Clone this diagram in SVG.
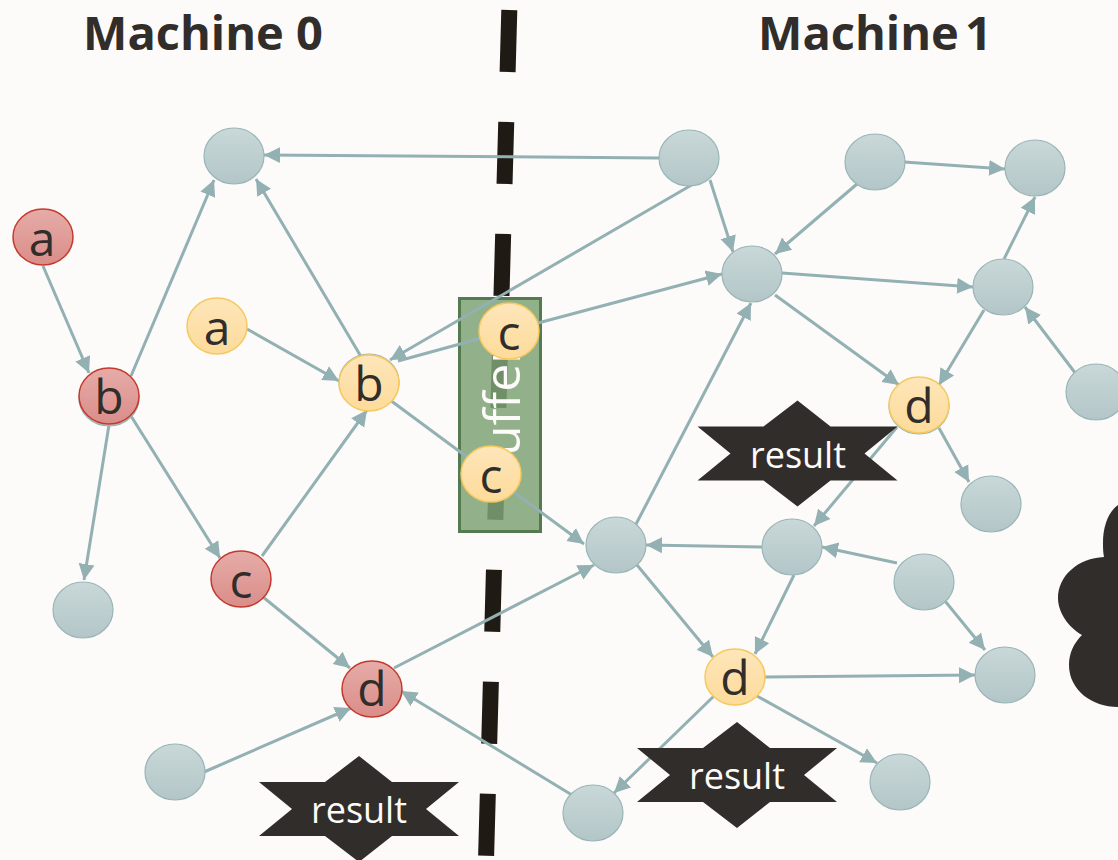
<svg xmlns="http://www.w3.org/2000/svg" width="1118" height="860" viewBox="0 0 1118 860">
<style>
text{font-family:"Open Sans","Noto Sans","Liberation Sans",sans-serif;text-anchor:middle}
.t{font-size:47px;font-weight:700;fill:#312d2a}
.l{font-size:48px;font-weight:400;fill:#312d2a}
.r{font-size:36px;fill:#fcfbfa}
.g{fill:url(#gg);stroke:#9ab5b7;stroke-width:1.2}
.p{fill:url(#gr);stroke:#c5392d;stroke-width:1.5}
.y{fill:url(#gy);stroke:#f6c95f;stroke-width:1.5}
.s{fill:#312d2a}
#edges line{stroke:#93b0b3;stroke-width:3}
#edges .a{marker-end:url(#ah)}
</style>
<defs>
<linearGradient id="gg" x1="0" y1="0" x2="0" y2="1"><stop offset="0" stop-color="#c9d8d9"/><stop offset="1" stop-color="#b3c6c7"/></linearGradient>
<linearGradient id="gr" x1="0" y1="0" x2="0" y2="1"><stop offset="0" stop-color="#e6aca8"/><stop offset="1" stop-color="#da8d89"/></linearGradient>
<linearGradient id="gy" x1="0" y1="0" x2="0" y2="1"><stop offset="0" stop-color="#fde6ba"/><stop offset="1" stop-color="#fddb9a"/></linearGradient>
<marker id="ah" markerUnits="userSpaceOnUse" markerWidth="17" markerHeight="18" refX="16" refY="9" orient="auto"><path d="M0 1 L16 9 L0 17 Z" fill="#93b0b3"/></marker>
<polygon id="star" points="0,-53 33,-27 100,-27 67,0 100,27 33,27 0,53 -34,27 -100,27 -67,0 -100,-27 -34,-27"/>
</defs>
<rect width="1118" height="860" fill="#fcfbfa"/>
<text class="t" x="203" y="50">Machine 0</text>
<text class="t" x="875" y="50" word-spacing="-6">Machine 1</text>
<line x1="509.3" y1="10" x2="486" y2="860" stroke="#1f1b14" stroke-width="16" stroke-dasharray="62 50"/>
<g id="buffer">
<rect x="459.5" y="298.5" width="81" height="233" fill="#7fa275" fill-opacity=".85" stroke="#567a50" stroke-width="3"/>
<text x="0" y="0" transform="translate(520,415) rotate(-90)" font-size="50" fill="#fcfbfa">buffer</text>
</g>
<g id="edges">
<line class="a" x1="43" y1="266" x2="89" y2="373"/>
<line class="a" x1="131" y1="376" x2="214" y2="180"/>
<line class="a" x1="131" y1="416" x2="220" y2="558"/>
<line class="a" x1="109" y1="425" x2="84" y2="580"/>
<line class="a" x1="262" y1="556" x2="367" y2="410"/>
<line class="a" x1="263" y1="597" x2="350" y2="668"/>
<line class="a" x1="247" y1="329" x2="339" y2="381"/>
<line class="a" x1="363" y1="360" x2="256" y2="179"/>
<line x1="398" y1="361" x2="482" y2="338"/>
<line class="a" x1="538" y1="323" x2="722" y2="274"/>
<line x1="390" y1="400" x2="467" y2="457"/>
<line class="a" x1="515" y1="493" x2="584" y2="544"/>
<line class="a" x1="659" y1="158" x2="264" y2="155"/>
<line class="a" x1="695" y1="183" x2="390" y2="360"/>
<line class="a" x1="710" y1="180" x2="733" y2="252"/>
<line class="a" x1="857" y1="184" x2="775" y2="254"/>
<line class="a" x1="904" y1="162" x2="1005" y2="169"/>
<line class="a" x1="782" y1="273" x2="973" y2="287"/>
<line class="a" x1="775" y1="295" x2="899" y2="385"/>
<line class="a" x1="1004" y1="259" x2="1035" y2="197"/>
<line class="a" x1="984" y1="310" x2="939" y2="385"/>
<line class="a" x1="1076" y1="374" x2="1025" y2="307"/>
<line class="a" x1="939" y1="428" x2="969" y2="482"/>
<line class="a" x1="897" y1="427" x2="814" y2="526"/>
<line class="a" x1="762" y1="547" x2="646" y2="545"/>
<line class="a" x1="897" y1="563" x2="822" y2="547"/>
<line class="a" x1="945" y1="601" x2="985" y2="650"/>
<line class="a" x1="794" y1="575" x2="755" y2="654"/>
<line class="a" x1="637" y1="565" x2="713" y2="657"/>
<line class="a" x1="634" y1="528" x2="751" y2="303"/>
<line class="a" x1="394" y1="668" x2="594" y2="565"/>
<line class="a" x1="204" y1="772" x2="351" y2="708"/>
<line class="a" x1="572" y1="795" x2="401" y2="691"/>
<line class="a" x1="765" y1="677" x2="975" y2="675"/>
<line class="a" x1="757" y1="696" x2="877" y2="763"/>
<line class="a" x1="714" y1="696" x2="614" y2="793"/>
</g>
<g id="n1"><ellipse class="g" cx="234" cy="156" rx="30" ry="28"/></g>
<g id="n2"><ellipse class="g" cx="689" cy="158" rx="30" ry="28"/></g>
<g id="n3"><ellipse class="g" cx="875" cy="162" rx="30" ry="28"/></g>
<g id="n4"><ellipse class="g" cx="1035" cy="168" rx="30" ry="28"/></g>
<g id="n5"><ellipse class="g" cx="752" cy="274" rx="30" ry="28"/></g>
<g id="n6"><ellipse class="g" cx="1003" cy="287" rx="30" ry="28"/></g>
<g id="n7"><ellipse class="g" cx="1096" cy="392" rx="30" ry="28"/></g>
<g id="n8"><ellipse class="g" cx="991" cy="504" rx="30" ry="28"/></g>
<g id="n9"><ellipse class="g" cx="616" cy="545" rx="30" ry="28"/></g>
<g id="n10"><ellipse class="g" cx="792" cy="547" rx="30" ry="28"/></g>
<g id="n11"><ellipse class="g" cx="924" cy="582" rx="30" ry="28"/></g>
<g id="n12"><ellipse class="g" cx="1005" cy="675" rx="30" ry="28"/></g>
<g id="n13"><ellipse class="g" cx="900" cy="782" rx="30" ry="28"/></g>
<g id="n14"><ellipse class="g" cx="593" cy="813" rx="30" ry="28"/></g>
<g id="n15"><ellipse class="g" cx="175" cy="772" rx="30" ry="28"/></g>
<g id="n16"><ellipse class="g" cx="83" cy="610" rx="30" ry="28"/></g>
<g id="ra"><ellipse class="p" cx="43" cy="237" rx="30" ry="28"/><text class="l" x="42" y="256">a</text></g>
<g id="rb"><ellipse class="g" cx="109" cy="398" rx="30" ry="28"/><ellipse class="p" cx="109" cy="396" rx="30" ry="28"/><text class="l" x="109" y="414">b</text></g>
<g id="rc"><ellipse class="p" cx="241" cy="579" rx="30" ry="28"/><text class="l" x="241" y="598">c</text></g>
<g id="rd"><ellipse class="p" cx="372" cy="689" rx="30" ry="28"/><text class="l" x="372" y="706">d</text></g>
<g id="ya"><ellipse class="y" cx="217" cy="326" rx="30" ry="28"/><text class="l" x="217" y="345">a</text></g>
<g id="yb"><ellipse class="g" cx="369" cy="382" rx="30" ry="28"/><ellipse class="y" cx="369" cy="383" rx="30" ry="28"/><text class="l" x="369" y="401">b</text></g>
<g id="yc1"><ellipse class="y" cx="509" cy="331" rx="30" ry="28"/><text class="l" x="509" y="350">c</text></g>
<g id="yc2"><ellipse class="y" cx="491" cy="474" rx="30" ry="28"/><text class="l" x="491" y="493">c</text></g>
<g id="yd1"><ellipse class="g" cx="919" cy="406" rx="30" ry="28"/><ellipse class="y" cx="919" cy="405" rx="30" ry="28"/><text class="l" x="919" y="423">d</text></g>
<g id="yd2"><ellipse class="y" cx="735" cy="677" rx="30" ry="28"/><text class="l" x="735" y="695">d</text></g>
<g id="r1"><use href="#star" class="s" x="797.500" y="453.500"/><text class="r" x="798" y="468">result</text></g>
<g id="r2"><use href="#star" class="s" x="737" y="775"/><text class="r" x="737" y="789">result</text></g>
<g id="r3"><use href="#star" class="s" x="359" y="809"/><text class="r" x="359" y="823">result</text></g>
<path id="cloud" class="s" d="M1118 505 C1108 512 1103 527 1103 543 C1103 548 1103 552 1104 557 C1078 558 1058 576 1058 598 C1058 612 1068 627 1082 635 C1074 643 1069 653 1069 665 C1069 690 1092 707 1118 707 Z"/>
</svg>
